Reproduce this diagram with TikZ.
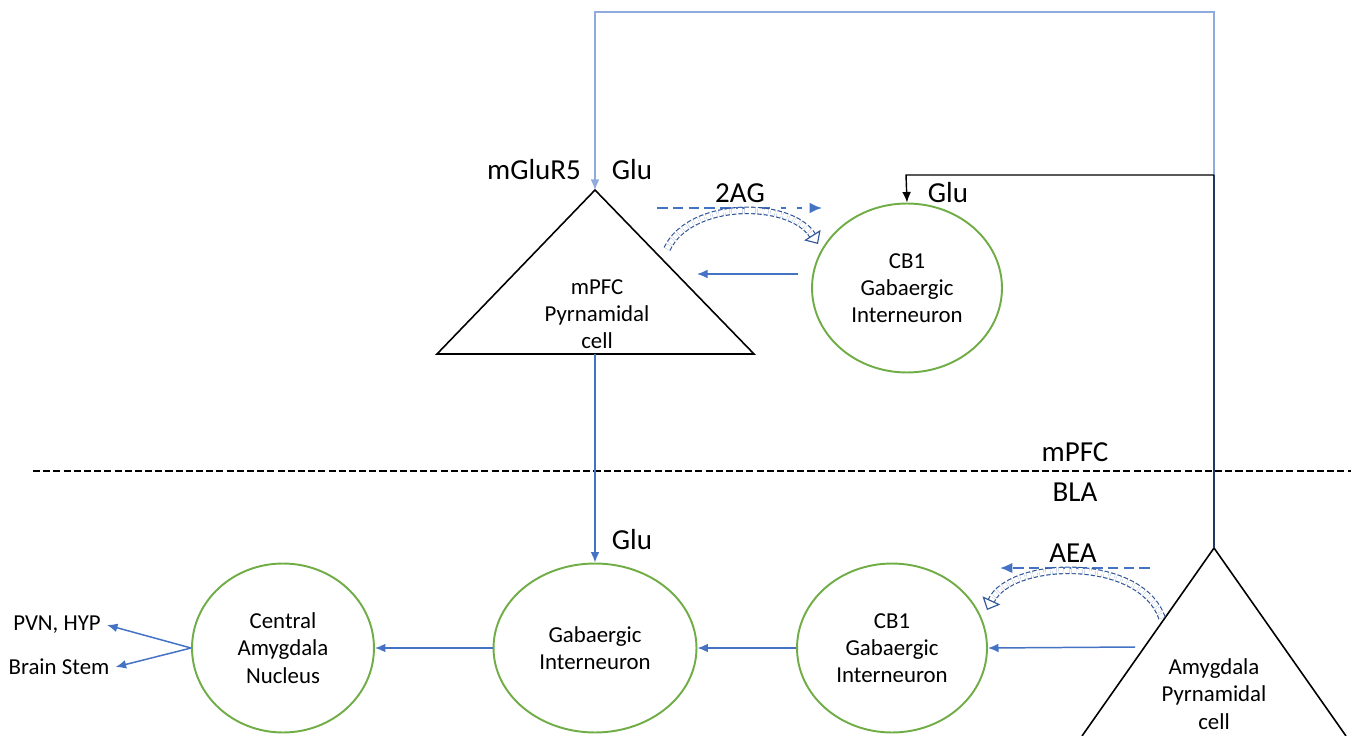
\documentclass[tikz,border=0pt]{standalone}
\usepackage{fontspec}
\setmainfont{Carlito}
\usetikzlibrary{arrows}
\usetikzlibrary{arrows.meta}
\usetikzlibrary{shapes.geometric}
\definecolor{sigblue}{HTML}{4472C4}
\definecolor{paleblue}{HTML}{8FAADC}
\definecolor{navy}{HTML}{1F3864}
\definecolor{hollowblue}{HTML}{2F5597}
\definecolor{cellgreen}{HTML}{70AD47}
\tikzset{
	cell/.style={draw=cellgreen, line width=1.1pt, ellipse, inner sep=0pt, align=center,
		minimum width=3.8cm, minimum height=3.38cm, font=\fontsize{13}{15.5}\selectfont},
	soma/.style={align=center, font=\fontsize{13}{15.5}\selectfont},
	lbl/.style={font=\fontsize{16.5}{19}\selectfont},
	sig/.style={-{Latex[length=6pt, width=5pt]}, draw=sigblue, line width=0.85pt},
	hollow/.style={draw=hollowblue, dashed, dash pattern=on 2.5pt off 1.2pt, double, double distance=3pt, line width=0.65pt}
}

\begin{document}
\begin{tikzpicture}[x=0.02cm, y=-0.02cm, >=latex]
	\useasboundingbox (0,0) rectangle (1351,736);

	% --- mPFC ---
	\coordinate (tapex) at (595,190);
	\coordinate (tbase) at (595,354);
	\draw[line width=0.9pt] (tapex) -- (437,354) -- (754,354) -- cycle;
	\node[soma] (tsoma) at (597,314) {mPFC\\Pyrnamidal\\cell};
	\node[cell] (topcb) at (907,288) {CB1\\Gabaergic\\Interneuron};

	\node[lbl] (mglu) at (534,170) {mGluR5};
	\node[lbl] (glua) at (632,170) {Glu};
	\node[lbl] (twoag) at (740,193) {2AG};
	\node[lbl] (glub) at (948,193) {Glu};

	% --- BLA ---
	\coordinate (bapex) at (1214,548);
	\draw[line width=0.9pt] (1082,736) -- (bapex) -- (1346,736);
	\node[soma] (bsoma) at (1214,694) {Amygdala\\Pyrnamidal\\cell};
	\node[cell] (botcb) at (892,648) {CB1\\Gabaergic\\Interneuron};
	\node[cell, minimum width=4.06cm] (gaba) at (595,648) {Gabaergic\\Interneuron};
	\node[cell, minimum width=3.64cm] (cea) at (283,648) {Central\\Amygdala\\Nucleus};

	\node[lbl] (gluc) at (632,540) {Glu};
	\node[lbl] (aea) at (1073,553) {AEA};
	\node[font=\fontsize{13}{15.5}\selectfont] (pvn) at (57,625) {PVN, HYP};
	\node[font=\fontsize{13}{15.5}\selectfont] (stem) at (59,667) {Brain Stem};

	% region border
	\draw[dashed, dash pattern=on 4pt off 1.8pt, line width=0.8pt] (33,471) -- (1351,471);
	\node[lbl] (pfclbl) at (1075,452) {mPFC};
	\node[lbl] (blalbl) at (1075,492) {BLA};

	% --- projections ---
	\coordinate (fork) at (1214,175);
	\draw[navy, line width=0.8pt] (bapex) -- (fork);
	\draw[-{Latex[length=6pt, width=5pt]}, draw=paleblue, line width=0.7pt] (fork) -- (1214,12) -| (tapex);
	\draw[-{Latex[length=6pt, width=5pt]}, line width=0.8pt] (fork) -- (906,175) -- (topcb.north);
	\draw[sig] (tbase) -- (gaba.north);

	% retrograde signalling
	\coordinate (twoagl) at (657,208);
	\coordinate (twoagr) at (822,208);
	\draw[-{Latex[length=7pt, width=6pt]}, draw=sigblue, line width=1.1pt, dash pattern=on 6pt off 3pt on 6pt off 3pt on 6pt off 3pt on 6pt off 3pt on 6pt off 3pt on 6pt off 3pt on 1.5pt off 3pt on 6pt] (twoagl) -- (twoagr);
	\draw[hollow, -{Triangle[open, length=6pt, width=11pt]}] (667,249) .. controls (690,200) and (790,200) .. (818,244);

	\coordinate (aear) at (1150,568);
	\coordinate (aeal) at (1000,568);
	\draw[-{Latex[length=7pt, width=6pt]}, draw=sigblue, line width=1.1pt, dashed, dash pattern=on 6pt off 3pt] (aear) -- (aeal);
	\draw[hollow, -{Triangle[open, length=6pt, width=11pt]}] (1162,618) .. controls (1140,555) and (1010,560) .. (987,610);

	% --- chain ---
	\coordinate (cbin) at (798,274);
	\coordinate (pyrout) at (697,274);
	\draw[sig] (cbin) -- (pyrout);
	\coordinate (bpyr) at (1135,647);
	\draw[sig] (bpyr) -- (botcb.east);
	\draw[sig] (botcb.west) -- (gaba.east);
	\draw[sig] (gaba.west) -- (cea.east);
	\draw[sig] (cea.west) -- (pvn.east);
	\draw[sig] (cea.west) -- (stem.east);

\end{tikzpicture}
\end{document}
